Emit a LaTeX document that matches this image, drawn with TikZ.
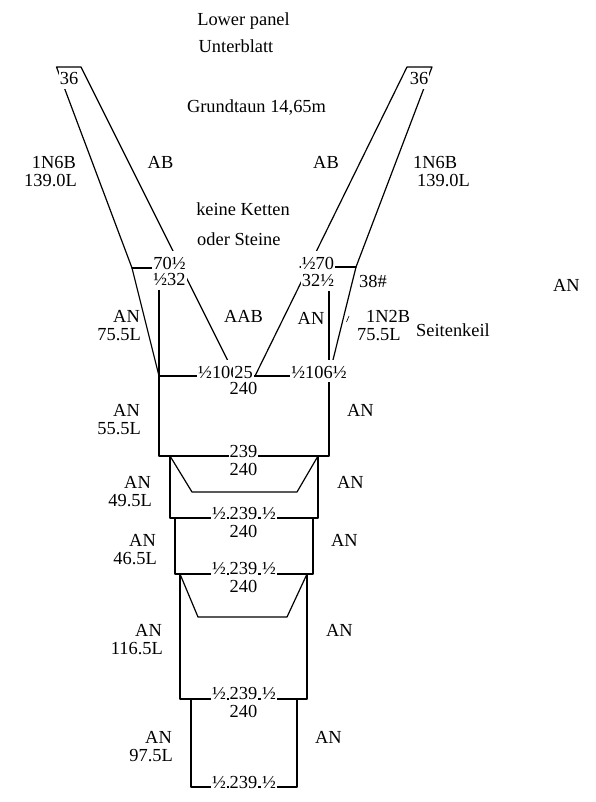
\documentclass[tikz,border=0pt]{standalone}
\usepackage{fontspec}
\setmainfont{Liberation Serif}

\begin{document}
\begin{tikzpicture}[x=1pt,y=-1pt,
    netline/.style={line width=1.2pt, line cap=round, line join=round},
    lbl/.style={font=\fontsize{18.4}{18.4}\selectfont, inner sep=0pt, text height=13pt, text depth=4.5pt, yshift=-1.75pt},
    cover/.style={lbl, fill=white, inner xsep=1pt},
    tallcover/.style={cover, text height=19pt, text depth=3.5pt, yshift=1.75pt}]
    \useasboundingbox (0,0) rectangle (596,802);

    % Upper wings
    \draw[netline] (132,268) -- (56.5,67) -- (81,67) -- (235.5,376);
    \draw[netline] (356,267) -- (432,67) -- (407,67) -- (255,376);
    \draw[netline] (132,268) -- (185,268);
    \draw[netline] (300,267) -- (356,267);
    \draw[netline] (132,268) -- (159,376);
    \draw[netline] (356,267) -- (329,376);
    \draw[netline] (159,268) -- (159,376);
    \draw[netline] (329,268) -- (329,376);
    \draw[line width=0.6pt] (346.5,322) -- (349,316);

    % Panels
    \draw[netline] (159,376) -- (329,376) -- (329,456) -- (159,456) -- cycle;
    \draw[netline] (170,456) -- (170,518) -- (318,518) -- (318,456);
    \draw[netline] (170,456) -- (192,492) -- (297,492) -- (318,456);
    \draw[netline] (175,518) -- (175,574) -- (313,574) -- (313,518);
    \draw[netline] (180,574) -- (180,699) -- (307,699) -- (307,574);
    \draw[netline] (180,574) -- (198,617) -- (287,617) -- (307,574);
    \draw[netline] (191,699) -- (191,787) -- (297,787) -- (297,699);

    % Seam labels
    \foreach \y/\name in {513/a, 568/b, 693/c, 782/d} {
        \node[cover] (half\name l) at (219,\y) {½};
        \node[cover] (seam\name) at (243.5,\y) {239};
        \node[cover] (half\name r) at (269,\y) {½};
    }
    \foreach \y/\name in {531/a, 586/b, 711/c} {
        \node[lbl] (width\name) at (243.5,\y) {240};
    }
    \node[cover] (seamtop) at (243.5,451) {239};
    \node[lbl] (widthtop) at (243.5,469) {240};

    % Titles
    \node[lbl] (title) at (243.5,20) {Lower panel};
    \node[lbl] (titlede) at (236,47) {Unterblatt};
    \node[lbl] (rope) at (256.5,107) {Grundtaun 14,65m};
    \node[lbl] (nochain) at (243,210) {keine Ketten};
    \node[lbl, anchor=west] (nostone) at (197,239) {oder Steine};

    % Wing labels
    \node[cover] (topl) at (69,79) {36};
    \node[cover] (topr) at (419,79) {36};
    \node[lbl] (abl) at (160.5,163) {AB};
    \node[lbl] (abr) at (326,163) {AB};
    \node[lbl, anchor=east] (wingl) at (76,163) {1N6B};
    \node[lbl, anchor=east] (winglen) at (77,181) {139.0L};
    \node[lbl, anchor=west] (wingr) at (413,163) {1N6B};
    \node[lbl, anchor=west] (wingrlen) at (417,181) {139.0L};

    \node[tallcover] (tipl) at (169.5,262) {70½};
    \node[cover] (tipla) at (169.5,279) {½32};
    \node[tallcover] (tipr) at (318,262) {½70};
    \node[cover] (tipra) at (318,280) {32½};
    \node[lbl, anchor=west] (mesh) at (359,281) {38\#};
    \node[lbl] (mid) at (243.5,316) {AAB};
    \node[tallcover, anchor=west] (basel) at (197,371) {½106};
    \node[tallcover] (basem) at (243.5,371) {25};
    \node[tallcover] (baser) at (319,371) {½106½};
    \node[lbl] (basew) at (243.5,388) {240};

    % Side labels
    \node[lbl, anchor=east] (anwl) at (140,316) {AN};
    \node[lbl, anchor=east] (lenwl) at (141,334) {75.5L};
    \node[lbl] (anwr) at (311,318) {AN};
    \node[lbl, anchor=west] (wedge) at (366,316) {1N2B};
    \node[lbl, anchor=west] (wedgelen) at (357,334) {75.5L};
    \node[lbl, anchor=west] (keil) at (416,330) {Seitenkeil};
    \node[lbl, anchor=west] (anfar) at (553,285) {AN};

    \foreach \name/\xa/\xb/\xc/\y/\len in {
        one/140/141/347/410/55.5L,
        two/151/152/337/482/49.5L,
        three/156/157/331/540/46.5L,
        four/162/163/326/630/116.5L,
        five/172/173/315/737/97.5L} {
        \node[lbl, anchor=east] (an\name) at (\xa,\y) {AN};
        \node[lbl, anchor=east] (len\name) at (\xb,\y+18.5) {\len};
        \node[lbl, anchor=west] (right\name) at (\xc,\y) {AN};
    }
\end{tikzpicture}
\end{document}
